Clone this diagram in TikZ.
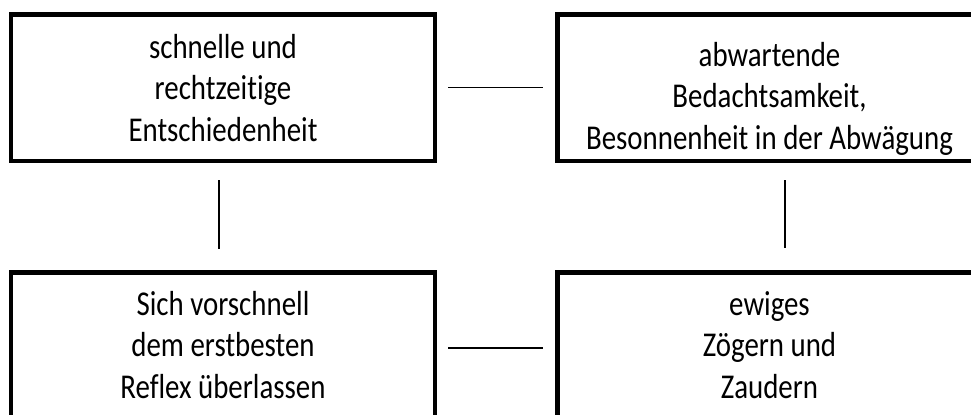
\documentclass[tikz,border=0pt]{standalone}
\usepackage{fontspec}
\setmainfont{Carlito}[FakeStretch=0.83, Ligatures=NoCommon]
\usetikzlibrary{calc}

\tikzset{
  feld/.style={draw, line width=2.3pt, minimum width=212pt, minimum height=73.25pt,
    inner sep=0pt, align=center, font=\fontsize{17.4}{20.75}\selectfont},
  strich/.style={line width=0.65pt}
}

\begin{document}
\begin{tikzpicture}[x=0.5pt, y=-0.5pt]
    \useasboundingbox (0,0) rectangle (971,414);
	% obere Reihe
    \node[feld] (entschieden) at (223,87.75) {schnelle und\\rechtzeitige\\Entschiedenheit};
    \node[feld] (besonnen) at (769.5,87.75) {\rule{0pt}{23pt}abwartende\\Bedachtsamkeit,\\Besonnenheit in der Abwägung};
	% untere Reihe
    \node[feld, minimum height=72.5pt] (reflex) at (223,345) {Sich vorschnell\\dem erstbesten\\Reflex überlassen};
    \node[feld, minimum height=72.5pt] (zaudern) at (769.5,345) {ewiges\\Zögern und\\Zaudern};
    \draw[strich, shorten <=5.4pt, shorten >=6.1pt] (entschieden) -- (besonnen);
    \draw[strich] ($(reflex.east)+(10.75,3)$) -- ($(zaudern.west)+(-12.25,3)$);
    \draw[strich] ($(entschieden.south)+(-4,16.75)$) -- ($(reflex.north)+(-4,-21.25)$);
    \draw[strich] ($(besonnen.south)+(15.5,16.75)$) -- ($(zaudern.north)+(15.5,-22.25)$);
\end{tikzpicture}
\end{document}
